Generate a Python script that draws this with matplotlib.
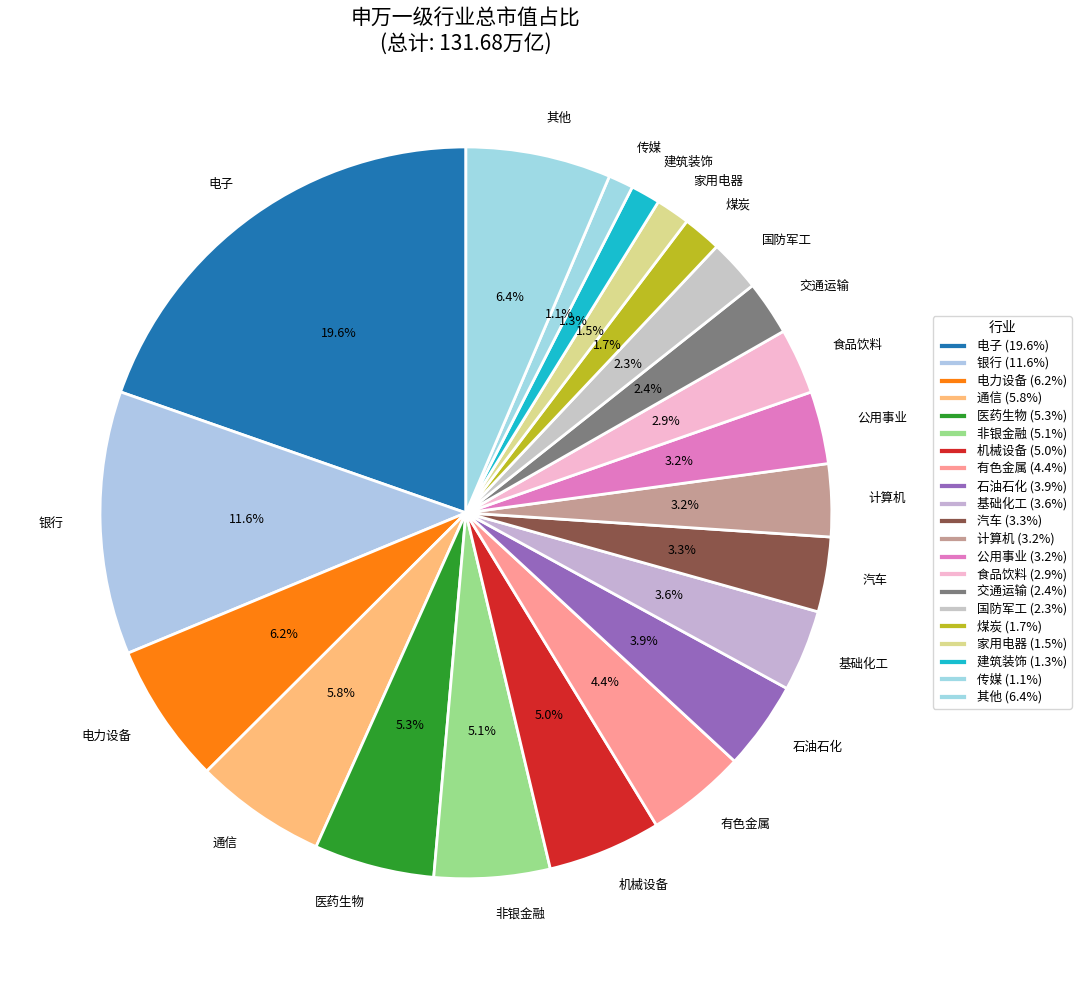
import numpy as np
import matplotlib
matplotlib.use("Agg")
import matplotlib.pyplot as plt

plt.rcParams['font.family'] = ['Noto Sans CJK SC', 'DejaVu Sans']
plt.rcParams['axes.unicode_minus'] = False

# 申万一级行业 总市值占比 (%)
industries = ["电子", "银行", "电力设备", "通信", "医药生物", "非银金融", "机械设备",
              "有色金属", "石油石化", "基础化工", "汽车", "计算机", "公用事业", "食品饮料",
              "交通运输", "国防军工", "煤炭", "家用电器", "建筑装饰", "传媒", "其他"]
shares = [19.6, 11.6, 6.2, 5.8, 5.3, 5.1, 5.0, 4.4, 3.9, 3.6, 3.3, 3.2, 3.2, 2.9,
          2.4, 2.3, 1.7, 1.5, 1.3, 1.1, 6.4]
total_cap = 131.68  # 万亿

colors = plt.cm.tab20(np.linspace(0, 1, len(industries)))

fig = plt.figure(figsize=(10.8, 9.81), dpi=100)
ax = fig.add_axes([0.0079, 0.0107, 0.847, 0.933])

wedges, texts, autotexts = ax.pie(
    shares,
    labels=industries,
    colors=colors,
    autopct='%1.1f%%',
    startangle=90,
    pctdistance=0.6,
    labeldistance=1.1,
    wedgeprops=dict(edgecolor='white', linewidth=2),
    textprops=dict(fontsize=9),
)

ax.set_title(f"申万一级行业总市值占比\n(总计: {total_cap:.2f}万亿)", fontsize=15, pad=4)

legend_labels = [f"{n} ({s:.1f}%)" for n, s in zip(industries, shares)]
ax.legend(wedges, legend_labels, title="行业", loc='center left',
          bbox_to_anchor=(0.858, 0.4776), bbox_transform=fig.transFigure,
          fontsize=9, title_fontsize=10, labelspacing=0.33,
          handlelength=2.3, handleheight=0.5)

plt.savefig("out.png", dpi=100, facecolor="white")
